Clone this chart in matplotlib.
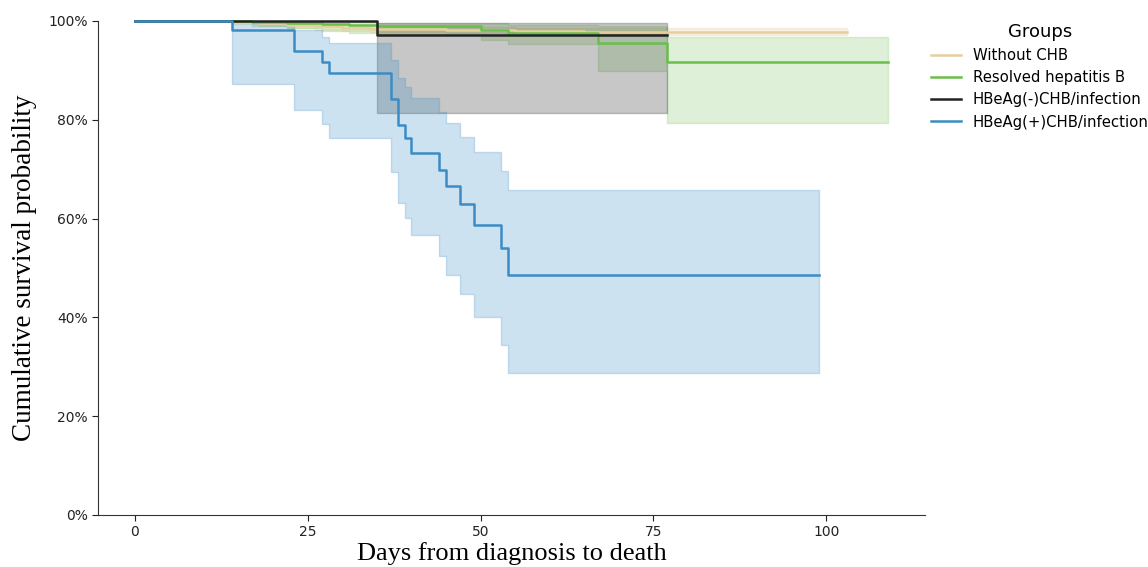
import numpy as np
import matplotlib.pyplot as plt
from matplotlib.ticker import PercentFormatter

# ── Data (survival in %) ─────────────────────────────────────────────────────

groups = ["Without CHB", "Resolved hepatitis B",
          "HBeAg(-)CHB/infection", "HBeAg(+)CHB/infection"]

# Without CHB
nochb_t  = [0, 14, 18, 22, 26, 30, 34, 45, 55, 65, 103]
nochb_s  = [100, 99.8, 99.5, 99.2, 98.9, 98.6, 98.4, 98.2, 98.0, 97.8, 97.8]
nochb_lo = [100, 99.4, 99.0, 98.6, 98.2, 97.9, 97.7, 97.5, 97.3, 97.2, 97.2]
nochb_hi = [100, 100, 99.9, 99.7, 99.4, 99.2, 99.0, 98.8, 98.6, 98.5, 98.5]

# Resolved hepatitis B
resolved_t  = [0, 17, 22, 27, 31, 35, 50, 54, 67, 77, 109]
resolved_s  = [100, 99.8, 99.6, 99.4, 99.2, 99.0, 98.2, 97.6, 95.5, 91.7, 91.7]
resolved_lo = [100, 99.0, 98.5, 98.0, 97.6, 97.3, 96.2, 95.3, 89.9, 79.3, 79.3]
resolved_hi = [100, 100, 100, 99.9, 99.8, 99.6, 99.5, 99.1, 99.0, 96.8, 96.8]

# HBeAg(-)
neg_t  = [0, 35, 77]
neg_s  = [100, 97.2, 97.2]
neg_lo = [100, 81.4, 81.4]
neg_hi = [100, 99.5, 99.5]

# HBeAg(+)
pos_t  = [0, 14, 23, 27, 28, 37, 38, 39, 40, 44, 45, 47, 49, 53, 54, 99]
pos_s  = [100, 98.2, 93.9, 91.8, 89.5, 84.2, 79.0, 76.3, 73.3, 69.8, 66.5,
          63.0, 58.8, 54.0, 48.6, 48.6]
pos_lo = [100, 87.2, 82.0, 79.2, 76.4, 69.5, 63.1, 60.1, 56.7, 52.5, 48.6,
          44.7, 40.0, 34.4, 28.7, 28.7]
pos_hi = [100, 99.8, 98.2, 96.8, 95.5, 92.1, 88.5, 86.7, 84.5, 81.6, 79.3,
          76.6, 73.4, 69.7, 65.7, 65.7]

# ── Style ─────────────────────────────────────────────────────────────────────

COLORS = ["#e6cf9c", "#6abf4b", "#222222", "#3b8cc4"]
BAND_ALPHA = [0.30, 0.22, 0.25, 0.25]

series = [
    (nochb_t, nochb_s, nochb_lo, nochb_hi),
    (resolved_t, resolved_s, resolved_lo, resolved_hi),
    (neg_t, neg_s, neg_lo, neg_hi),
    (pos_t, pos_s, pos_lo, pos_hi),
]

fig = plt.figure(figsize=(11.48, 5.67), dpi=100)
ax = fig.add_axes([98 / 1148, 1 - 515 / 567, (925 - 98) / 1148, (515 - 21) / 567])

for (t, s, lo, hi), col, a in zip(series, COLORS, BAND_ALPHA):
    t = np.array(t, dtype=float)
    ax.fill_between(t, np.array(lo) / 100, np.array(hi) / 100, step="post",
                    color=col, alpha=a, linewidth=1)

for (t, s, lo, hi), col, name in zip(series, COLORS, groups):
    ax.step(t, np.array(s) / 100, where="post", color=col, lw=1.8,
            label=name, clip_on=False)

ax.set_xlim(-5.35, 114.3)
ax.set_ylim(0, 1)
ax.set_xticks([0, 25, 50, 75, 100])
ax.set_yticks(np.arange(0, 1.01, 0.2))
ax.yaxis.set_major_formatter(PercentFormatter(1.0, decimals=0))
ax.tick_params(labelsize=10, colors="#222222", length=4)
for side in ["top", "right"]:
    ax.spines[side].set_visible(False)
for side in ["left", "bottom"]:
    ax.spines[side].set_color("#333333")

serif = ["Liberation Serif", "DejaVu Serif"]
ax.set_ylabel("Cumulative survival probability", family=serif, fontsize=19.5,
              labelpad=8)
ax.set_xlabel("Days from diagnosis to death", family=serif, fontsize=19,
              labelpad=2)

leg = ax.legend(title="Groups", loc="upper left", bbox_to_anchor=(1.0, 1.008),
                borderaxespad=0, frameon=False, fontsize=10.7,
                title_fontsize=13, handlelength=2.0, labelspacing=0.48)

fig.savefig("out.png", dpi=100)
